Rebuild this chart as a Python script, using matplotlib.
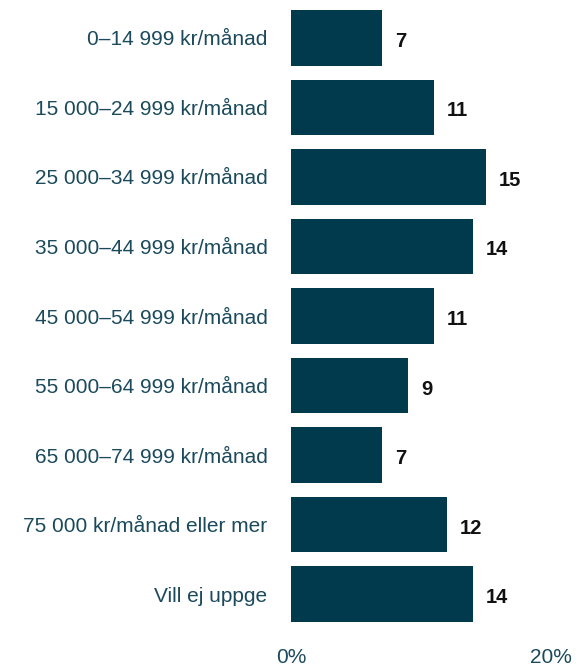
import matplotlib.pyplot as plt

# Income brackets and share of respondents (%)
categories = [
    "0–14 999 kr/månad",
    "15 000–24 999 kr/månad",
    "25 000–34 999 kr/månad",
    "35 000–44 999 kr/månad",
    "45 000–54 999 kr/månad",
    "55 000–64 999 kr/månad",
    "65 000–74 999 kr/månad",
    "75 000 kr/månad eller mer",
    "Vill ej uppge",
]
values = [7, 11, 15, 14, 11, 9, 7, 12, 14]
xticks = [0, 20]
xtick_labels = ["0%", "20%"]

BAR = "#023a4d"
TEXT = "#1b4a5c"

W, H = 581, 672
fig = plt.figure(figsize=(W / 100, H / 100), dpi=100)
ax = fig.add_axes([291 / W, 1 - 629 / H, 260 / W, 626 / H])

pos = list(range(len(categories)))
ax.barh(pos, values, height=0.8, color=BAR)
ax.set_xlim(0, 20)
ax.set_ylim(len(categories) - 0.5, -0.5)

for y, v in zip(pos, values):
    ax.text(v + 1.0, y + 0.05, str(v), va="center", ha="left",
            fontsize=14.5, fontweight="bold", color="#111111",
            family="Liberation Sans", clip_on=False)

ax.set_yticks(pos)
ax.set_yticklabels(categories, fontsize=15, color=TEXT, family="Liberation Sans")
ax.set_xticks(xticks)
ax.set_xticklabels(xtick_labels, fontsize=15, color=TEXT, family="Liberation Sans")
ax.tick_params(axis="y", length=0, pad=17)
ax.tick_params(axis="x", length=0, pad=14)
for s in ax.spines.values():
    s.set_visible(False)

fig.savefig("out.png", dpi=100)
